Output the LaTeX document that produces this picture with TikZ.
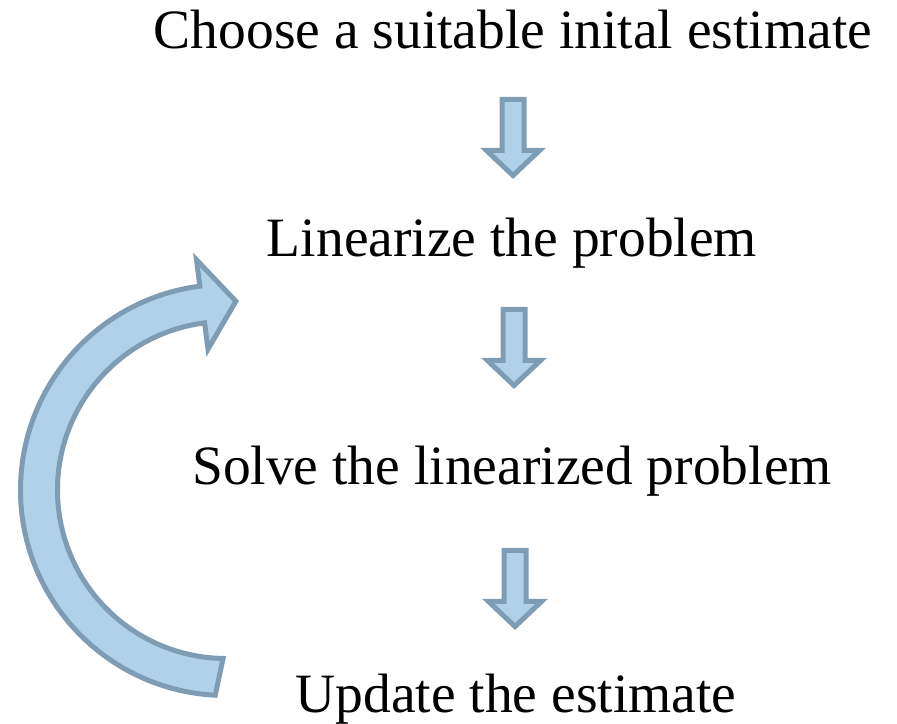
\documentclass[tikz,border=0pt]{standalone}
\usepackage{fontspec}
\setmainfont{Liberation Serif}
\definecolor{arrfill}{RGB}{175,210,234}
\definecolor{arrline}{RGB}{126,156,180}
\begin{document}
\begin{tikzpicture}[x=1pt,y=1pt,
  txt/.style={inner sep=0pt, anchor=base, font=\fontsize{55.5}{66}\selectfont},
  blockstyle/.style={fill=arrfill, draw=arrline, line width=5pt, line join=miter},
  blockdown/.pic={\path[blockstyle] (-11,0) -- (11,0) -- (11,-51) -- (26.5,-51) -- (0,-76) -- (-26.5,-51) -- (-11,-51) -- cycle;}
]
\useasboundingbox (0,0) rectangle (897,723);
% text nodes
\node[txt] (t1) at (513,674) {Choose a suitable inital estimate};
\node[txt] (t2) at (512,466) {Linearize the problem};
\node[txt] (t3) at (512,238) {Solve the linearized problem};
\node[txt] (t4) at (516,11) {Update the estimate};
% down block arrows
\pic at (513,623.5) {blockdown};
\pic at (514,413.5) {blockdown};
\pic at (515,172.5) {blockdown};
% curved feedback arrow
\coordinate (c) at (226,233);
\begin{scope}[shift={(c)}]
\path[blockstyle]
  (267:205.5) arc[start angle=267, end angle=97.3, radius=205.5]
  -- (97.3:232) -- (87:189) -- (97.3:142) -- (97.3:168.5)
  arc[start angle=97.3, end angle=269, radius=168.5] -- cycle;
\end{scope}
\end{tikzpicture}
\end{document}
